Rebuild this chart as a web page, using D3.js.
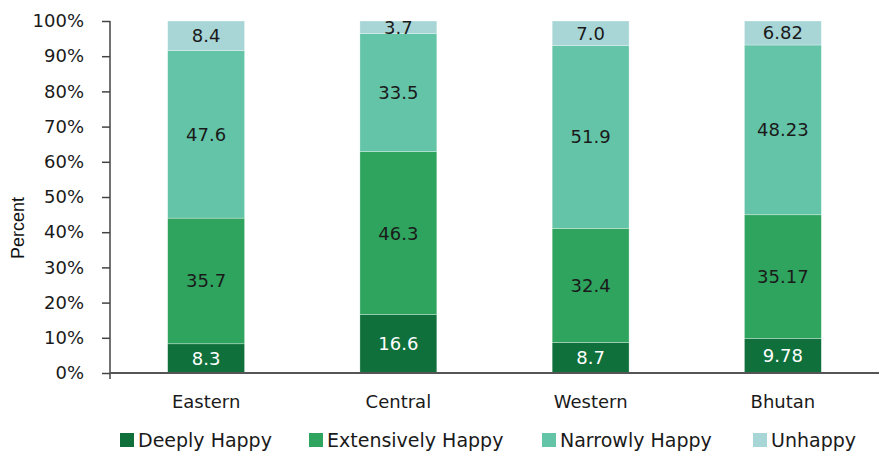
<!DOCTYPE html>
<html>
<head>
<meta charset="utf-8">
<script src="https://cdn.jsdelivr.net/npm/d3@7/dist/d3.min.js"></script>
<style>
  body { margin: 0; background: #fff; }
  svg { display: block; font-family: "DejaVu Sans", sans-serif; }
</style>
</head>
<body>
<svg id="chart" width="879" height="454"></svg>
<script>
// Happiness distribution by region (percent)
const regions = ["Eastern", "Central", "Western", "Bhutan"];
const groups = ["Deeply Happy", "Extensively Happy", "Narrowly Happy", "Unhappy"];
const deeplyHappy      = [8.3, 16.6, 8.7, 9.78];
const extensivelyHappy = [35.7, 46.3, 32.4, 35.17];
const narrowlyHappy    = [47.6, 33.5, 51.9, 48.23];
const unhappy          = [8.4, 3.7, 7.0, 6.82];
const valueLabels = [
  ["8.3", "16.6", "8.7", "9.78"],
  ["35.7", "46.3", "32.4", "35.17"],
  ["47.6", "33.5", "51.9", "48.23"],
  ["8.4", "3.7", "7.0", "6.82"]
];
const yTicks = [0, 10, 20, 30, 40, 50, 60, 70, 80, 90, 100];

const colors = ["#0f703b", "#2ea45e", "#64c4a7", "#a8d6d7"];
const textColors = ["#ffffff", "#1a1a1a", "#1a1a1a", "#1a1a1a"];

const rows = regions.map((r, i) => ({
  region: r,
  "Deeply Happy": deeplyHappy[i],
  "Extensively Happy": extensivelyHappy[i],
  "Narrowly Happy": narrowlyHappy[i],
  "Unhappy": unhappy[i]
}));
const stacked = d3.stack().keys(groups)(rows);

const svg = d3.select("#chart");
const x = d3.scaleBand().domain(regions).range([110, 879]).paddingInner(0.6).paddingOuter(0.3);
const y = d3.scaleLinear().domain([0, 100]).range([373, 21]);

// bars
const layer = svg.append("g").selectAll("g").data(stacked).join("g")
  .attr("fill", (d, i) => colors[i]);
layer.selectAll("rect").data(d => d).join("rect")
  .attr("x", d => x(d.data.region))
  .attr("width", x.bandwidth())
  .attr("y", d => y(Math.min(d[1], 100)))
  .attr("height", d => y(d[0]) - y(Math.min(d[1], 100)))
  .attr("stroke", "#ffffff")
  .attr("stroke-opacity", 0.5)
  .attr("stroke-width", 0.6);

// value labels
stacked.forEach((s, gi) => {
  svg.append("g").selectAll("text").data(s).join("text")
    .attr("x", d => x(d.data.region) + x.bandwidth() / 2)
    .attr("y", d => (y(d[0]) + y(Math.min(d[1], 100))) / 2)
    .attr("dy", "0.36em")
    .attr("text-anchor", "middle")
    .attr("font-size", 18)
    .attr("fill", textColors[gi])
    .text((d, i) => valueLabels[gi][i]);
});

// y axis
const yAxis = svg.append("g").attr("transform", "translate(110,0)")
  .call(d3.axisLeft(y).tickValues(yTicks).tickFormat(d => d + "%").tickSize(8).tickSizeOuter(0));
yAxis.select(".domain").attr("d", `M0,${y(100)}V379`).attr("stroke", "#444").attr("stroke-width", 1.5);
yAxis.selectAll(".tick line").attr("stroke", "#444").attr("stroke-width", 1.5);
yAxis.selectAll(".tick text").attr("font-size", 18).attr("fill", "#1a1a1a").attr("x", -26)
  .attr("font-family", "'DejaVu Sans', sans-serif");

// x axis
const xAxis = svg.append("g").attr("transform", "translate(0,373)")
  .call(d3.axisBottom(x).tickSize(0).tickPadding(22));
xAxis.select(".domain").attr("d", "M110,0H879").attr("stroke", "#555").attr("stroke-width", 2);
xAxis.selectAll(".tick text").attr("font-size", 18).attr("fill", "#1a1a1a")
  .attr("font-family", "'DejaVu Sans', sans-serif");

// y axis title
svg.append("text")
  .attr("transform", "translate(24,228) rotate(-90)")
  .attr("text-anchor", "middle")
  .attr("font-family", "'Liberation Sans', Arial, sans-serif")
  .attr("font-size", 18)
  .attr("fill", "#111")
  .text("Percent");

// legend
const legendX = [120, 309, 542, 753];
const legend = svg.append("g").selectAll("g").data(groups).join("g")
  .attr("transform", (d, i) => `translate(${legendX[i]},440)`);
legend.append("rect").attr("x", 0).attr("y", -7).attr("width", 14).attr("height", 14)
  .attr("fill", (d, i) => colors[i]);
legend.append("text").attr("x", 18).attr("y", 7)
  .attr("font-size", 19).attr("fill", "#1a1a1a").text(d => d);
</script>
</body>
</html>
